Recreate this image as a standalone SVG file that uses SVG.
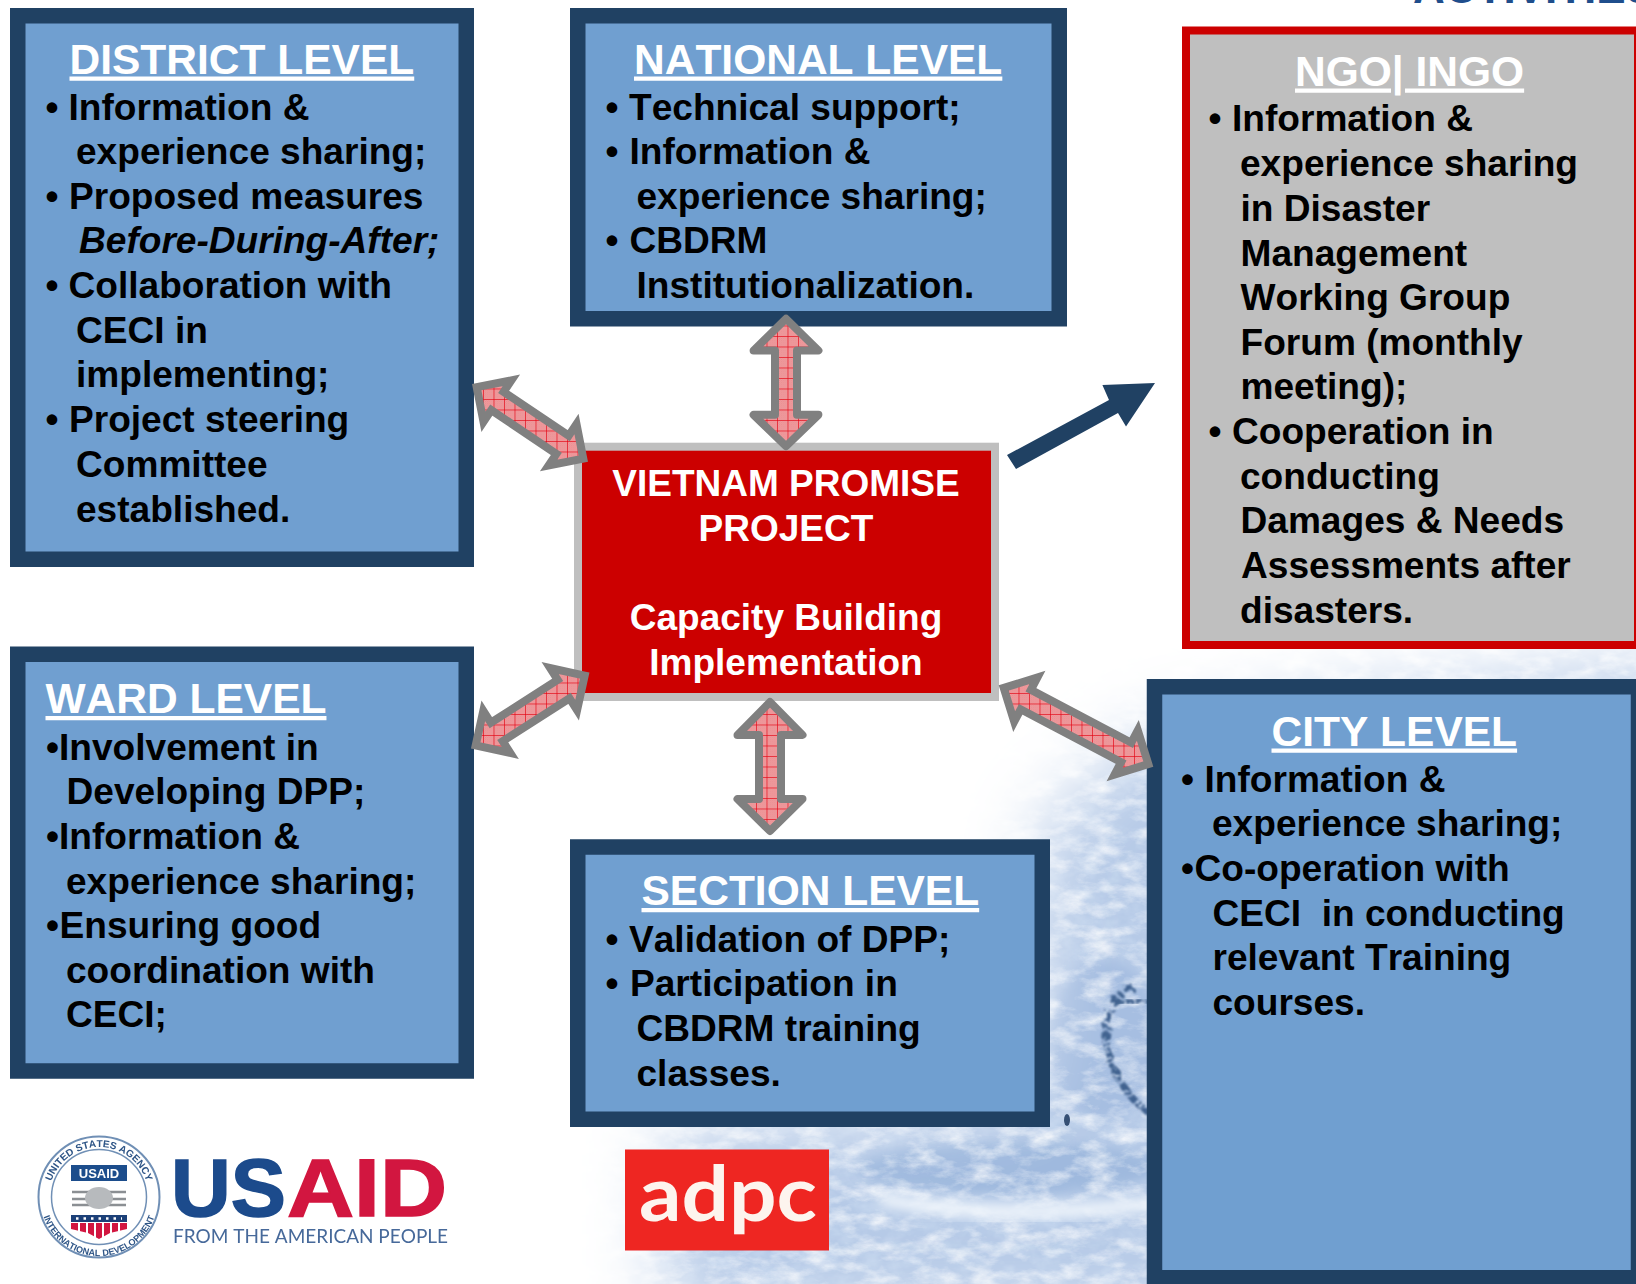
<svg xmlns="http://www.w3.org/2000/svg" width="1636" height="1284" viewBox="0 0 1636 1284">
<style>
text{font-family:"Liberation Sans",Arial,sans-serif;font-weight:700;font-kerning:none}
.box{fill:#709fd0;stroke:#204163;stroke-width:15.5}
.t{font-size:42.5px;fill:#fff;text-decoration:underline}
.b{font-size:37.1px;fill:#000;white-space:pre}
.c{font-size:37px;fill:#fff;text-anchor:middle}
.dbl{fill:url(#hatch);stroke:#808080}
.rj{stroke-linejoin:round;stroke-width:8}
.mj{stroke-linejoin:miter;stroke-miterlimit:10;stroke-width:8}
</style>
<defs>
<pattern id="dither" width="2" height="2" patternUnits="userSpaceOnUse"><rect width="2" height="2" fill="#f2a5a7"/><rect width="1" height="1" fill="#e8888c"/><rect x="1" y="1" width="1" height="1" fill="#e8888c"/></pattern>
<pattern id="hatch" width="10.5" height="10.5" patternUnits="userSpaceOnUse"><rect width="10.5" height="10.5" fill="url(#dither)"/><path d="M0 .5H10.5M.5 0V10.5" stroke="#e2000f" stroke-width=".8" stroke-opacity=".8" fill="none"/></pattern>
<filter id="fadeBlur" x="-20%" y="-20%" width="140%" height="140%"><feGaussianBlur stdDeviation="38"/></filter>
<mask id="waterMask" maskUnits="userSpaceOnUse" x="0" y="0" width="1636" height="1284"><polygon points="665,1320 665,1130 1025,1090 1040,830 1140,740 1330,700 1680,660 1680,1320" fill="#fff" filter="url(#fadeBlur)"/></mask>
<filter id="foam" x="0" y="0" width="100%" height="100%"><feTurbulence type="fractalNoise" baseFrequency="0.035 0.07" numOctaves="5" seed="7"/><feColorMatrix values="0 0 0 0 1  0 0 0 0 1  0 0 0 0 1  1.7 0 0 0 -0.72"/></filter>
<filter id="deep" x="0" y="0" width="100%" height="100%"><feTurbulence type="fractalNoise" baseFrequency="0.05 0.07" numOctaves="4" seed="21"/><feColorMatrix values="0 0 0 0 .55  0 0 0 0 .67  0 0 0 0 .85  2 0 0 0 -0.8"/></filter>
<filter id="b6"><feGaussianBlur stdDeviation="6"/></filter>
<filter id="rough" x="-30%" y="-30%" width="160%" height="160%"><feTurbulence type="fractalNoise" baseFrequency="0.12" numOctaves="3" seed="4" result="n"/><feDisplacementMap in="SourceGraphic" in2="n" scale="14"/><feGaussianBlur stdDeviation=".8"/></filter>
<filter id="logo"><feGaussianBlur stdDeviation=".45"/></filter>
<path id="sealTop" d="M49 1197A50 50 0 0 1 149 1197"/>
<path id="sealBot" d="M40 1197A59 59 0 0 0 158 1197"/>
</defs>
<rect width="1636" height="1284" fill="#fff"/>
<g id="background" mask="url(#waterMask)">
<rect x="560" y="640" width="1076" height="644" fill="#b6cae7"/>
<rect x="560" y="640" width="1076" height="644" filter="url(#deep)"/>
<ellipse cx="1010" cy="1168" rx="150" ry="26" fill="#9fb9de" filter="url(#b6)"/>
<ellipse cx="1105" cy="1040" rx="55" ry="80" fill="#a6bee1" filter="url(#b6)"/>
<rect x="560" y="640" width="1076" height="644" filter="url(#foam)"/>
<path d="M880 1192Q1000 1214 1160 1196L1160 1210Q1000 1230 880 1206Z" fill="#eef4fb" filter="url(#b6)"/>
<path d="M1133 987C1122 992 1118 1000 1117 1004C1106 1020 1104 1030 1107 1040C1108 1055 1112 1070 1120 1080C1128 1095 1138 1105 1148 1112" fill="none" stroke="#41628f" stroke-width="7" stroke-dasharray="9 3 4 2" filter="url(#rough)"/>
<path d="M1117 1003L1146 1000" fill="none" stroke="#41628f" stroke-width="6" stroke-dasharray="7 2" filter="url(#rough)"/>
<ellipse cx="1067" cy="1120" rx="3" ry="6" fill="#2f4a70"/>
</g>
<text id="clipped-title" x="1413" y="3" style="font-size:44px;fill:#1f4e8c">ACTIVITIES</text>

<g id="district">
<rect class="box" x="17.75" y="15.75" width="448.5" height="543.5"/>
<text class="t" x="69.5" y="73.5">DISTRICT LEVEL</text>
<text class="b" y="119.5"><tspan x="45.5">•</tspan><tspan x="68.5">Information &amp;</tspan></text>
<text class="b" x="76" y="163.5">experience sharing;</text>
<text class="b" y="208.5"><tspan x="45.5">•</tspan><tspan x="69">Proposed measures</tspan></text>
<text class="b" x="79" y="252.5" font-style="italic">Before-During-After;</text>
<text class="b" y="298"><tspan x="45.5">•</tspan><tspan x="68.5">Collaboration with</tspan></text>
<text class="b" x="76" y="342.5">CECI in</text>
<text class="b" x="76" y="386.5">implementing;</text>
<text class="b" y="431.5"><tspan x="45.5">•</tspan><tspan x="69">Project steering</tspan></text>
<text class="b" x="76" y="476.5">Committee</text>
<text class="b" x="76" y="521.5">established.</text>
</g>

<g id="national">
<rect class="box" x="577.75" y="15.75" width="481.5" height="303"/>
<text class="t" x="634" y="73.5">NATIONAL LEVEL</text>
<text class="b" y="119.5"><tspan x="605.5">•</tspan><tspan x="629">Technical support;</tspan></text>
<text class="b" y="164"><tspan x="605.5">•</tspan><tspan x="629.5">Information &amp;</tspan></text>
<text class="b" x="636.5" y="208.5">experience sharing;</text>
<text class="b" y="253"><tspan x="605.5">•</tspan><tspan x="629.5">CBDRM</tspan></text>
<text class="b" x="636.5" y="298">Institutionalization.</text>
</g>

<g id="ngo">
<rect x="1186" y="30.5" width="452" height="614.5" fill="#bfbfbf" stroke="#cc0000" stroke-width="8"/>
<text class="t" x="1295" y="85.5">NGO| INGO</text>
<text class="b" y="130.5"><tspan x="1208.5">•</tspan><tspan x="1232">Information &amp;</tspan></text>
<text class="b" x="1240" y="176">experience sharing</text>
<text class="b" x="1240.5" y="220.5">in Disaster</text>
<text class="b" x="1240.5" y="265.5">Management</text>
<text class="b" x="1240.5" y="309.5">Working Group</text>
<text class="b" x="1240.5" y="354.5">Forum (monthly</text>
<text class="b" x="1240.5" y="398.5">meeting);</text>
<text class="b" y="444"><tspan x="1208.5">•</tspan><tspan x="1232">Cooperation in</tspan></text>
<text class="b" x="1240" y="488.5">conducting</text>
<text class="b" x="1240.5" y="533">Damages &amp; Needs</text>
<text class="b" x="1241" y="577.5">Assessments after</text>
<text class="b" x="1240" y="622.5">disasters.</text>
</g>

<g id="project">
<rect x="578" y="446.7" width="417" height="250.3" fill="#cc0000" stroke="#bfbfbf" stroke-width="8"/>
<text class="c" x="786" y="496">VIETNAM PROMISE</text>
<text class="c" x="786" y="541">PROJECT</text>
<text class="c" x="786" y="630">Capacity Building</text>
<text class="c" x="786" y="674.5">Implementation</text>
</g>

<g id="ward">
<rect class="box" x="17.75" y="654.25" width="448.5" height="416.75"/>
<text class="t" x="45.5" y="713">WARD LEVEL</text>
<text class="b" y="760"><tspan x="46">•</tspan><tspan x="59">Involvement in</tspan></text>
<text class="b" x="66.5" y="804">Developing DPP;</text>
<text class="b" y="849"><tspan x="46">•</tspan><tspan x="59">Information &amp;</tspan></text>
<text class="b" x="66" y="894">experience sharing;</text>
<text class="b" y="938"><tspan x="46">•</tspan><tspan x="59.5">Ensuring good</tspan></text>
<text class="b" x="66" y="983">coordination with</text>
<text class="b" x="66" y="1027">CECI;</text>
</g>

<g id="section">
<rect class="box" x="577.75" y="847" width="464.5" height="272.25"/>
<text class="t" x="641.5" y="905">SECTION LEVEL</text>
<text class="b" y="952"><tspan x="605.5">•</tspan><tspan x="629">Validation of DPP;</tspan></text>
<text class="b" y="996"><tspan x="605.5">•</tspan><tspan x="630">Participation in</tspan></text>
<text class="b" x="636.5" y="1041">CBDRM training</text>
<text class="b" x="636.5" y="1086">classes.</text>
</g>

<g id="city">
<rect class="box" x="1154.5" y="686.75" width="484" height="591"/>
<text class="t" x="1271.5" y="745.5">CITY LEVEL</text>
<text class="b" y="792"><tspan x="1181">•</tspan><tspan x="1204.5">Information &amp;</tspan></text>
<text class="b" x="1212" y="836">experience sharing;</text>
<text class="b" y="881"><tspan x="1181">•</tspan><tspan x="1194.5">Co-operation with</tspan></text>
<text class="b" x="1212.5" y="925.5">CECI  in conducting</text>
<text class="b" x="1212.5" y="970">relevant Training</text>
<text class="b" x="1212.5" y="1014.5">courses.</text>
</g>

<g id="usaid-logo" filter="url(#logo)">
<circle cx="99" cy="1197" r="60.5" fill="#fff" stroke="#6f8fb5" stroke-width="2"/>
<circle cx="99" cy="1197" r="47.5" fill="#fff" stroke="#6f8fb5" stroke-width="1.5"/>
<text text-anchor="middle" style="font-size:10px;fill:#2d5486"><textPath href="#sealTop" startOffset="50%">UNITED STATES AGENCY</textPath></text>
<text text-anchor="middle" style="font-size:9px;fill:#2d5486"><textPath href="#sealBot" startOffset="50%">INTERNATIONAL DEVELOPMENT</textPath></text>
<rect x="71" y="1165" width="56" height="16" fill="#1f4e8c"/>
<text x="99" y="1177.5" text-anchor="middle" style="font-size:13px;fill:#fff">USAID</text>
<path d="M72 1192H126M72 1199H126M72 1205H126" stroke="#8b8f93" stroke-width="2.5" fill="none"/>
<ellipse cx="99" cy="1198" rx="14" ry="11" fill="#b7babd"/>
<rect x="71" y="1215" width="56" height="7" fill="#1f3f78"/>
<path d="M76 1218.500H122" stroke="#fff" stroke-width="2.500" stroke-dasharray="2.500 5" fill="none"/>
<path d="M71 1223H127V1229L110 1233L99 1239L88 1233L71 1229Z" fill="#d2163f"/>
<path d="M79 1223V1232M87 1223V1234M95 1223V1238M103 1223V1238M111 1223V1234M119 1223V1232" stroke="#fff" stroke-width="2"/>
<text x="171" y="1216" textLength="115" lengthAdjust="spacingAndGlyphs" style="font-size:81px;fill:#1b4b8c;stroke:#1b4b8c;stroke-width:1.5">US</text>
<text x="287" y="1216" textLength="160" lengthAdjust="spacingAndGlyphs" style="font-size:81px;fill:#d2163f;stroke:#d2163f;stroke-width:1.5">AID</text>
<text x="173" y="1242.5" textLength="275" lengthAdjust="spacingAndGlyphs" style="font-family:'Lato','Liberation Sans',sans-serif;font-weight:400;font-size:19px;fill:#46699a">FROM THE AMERICAN PEOPLE</text>
</g>

<g id="adpc-logo" filter="url(#logo)">
<rect x="625" y="1149.500" width="204" height="101" fill="#ee2722"/>
<text x="639" y="1221" textLength="178" lengthAdjust="spacingAndGlyphs" style="font-family:'Lato','Liberation Sans',sans-serif;font-weight:700;font-size:76px;fill:#fdf4ee">adpc</text>
</g>

<g id="connectors">
<polygon class="dbl rj" points="786,318.750 818.400,350.500 797,350.500 797,414.800 818.400,414.800 786,446.250 753.600,414.800 775,414.800 775,350.500 753.600,350.500"/>
<polygon class="dbl rj" points="770,702 802.500,735 781,735 781,799 802.500,799 770,831 737.500,799 759,799 759,735 737.500,735"/>
<polygon class="dbl mj" points="583.300,458.700 576.500,424 568.660,435.670 503.660,391.870 511.400,380.300 476.700,387.100 483.500,421.800 491.340,410.130 556.340,453.930 548.600,465.500"/>
<polygon class="dbl mj" points="584.700,675.600 550.100,668.050 557.660,679.860 490.860,722.660 483.300,710.850 475.700,745.400 510.300,752.950 502.740,741.140 569.540,698.340 577.100,710.150"/>
<polygon class="dbl mj" points="1148.300,764 1137.800,730.300 1131.300,742.670 1030.900,689.870 1037.400,677.500 1003.700,688 1014.200,721.700 1020.700,709.330 1121.100,762.130 1114.600,774.500"/>
<polygon id="to-ngo" points="1155,383 1102.400,385 1109,400 1007,455 1016,469 1118,413 1126,426.500" fill="#204163"/>
</g>
</svg>
